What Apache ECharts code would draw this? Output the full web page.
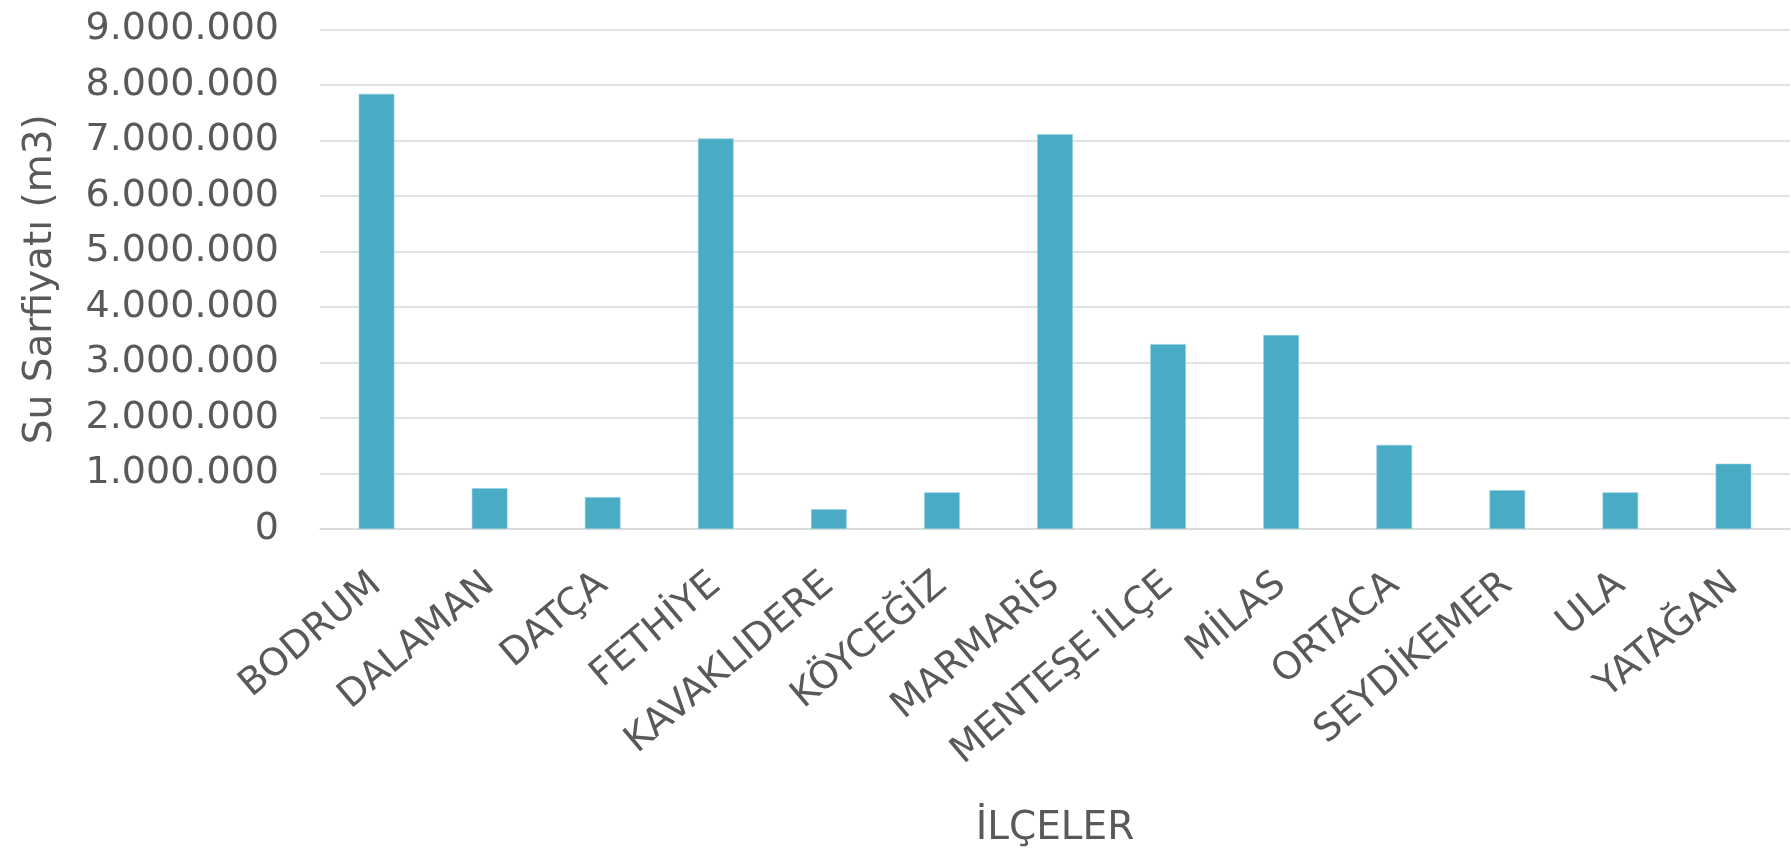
<!DOCTYPE html>
<html>
<head>
<meta charset="utf-8">
<title>Su Sarfiyatı</title>
<script src="https://cdn.jsdelivr.net/npm/echarts@6/dist/echarts.min.js"></script>
<style>
  html, body { margin: 0; padding: 0; background: #ffffff; }
  #chart { width: 1791px; height: 853px; }
</style>
</head>
<body>
<div id="chart"></div>
<script>
// İlçe bazında su sarfiyatı (m3)
const districts = [
  'BODRUM', 'DALAMAN', 'DATÇA', 'FETHİYE', 'KAVAKLIDERE', 'KÖYCEĞİZ',
  'MARMARİS', 'MENTEŞE İLÇE', 'MİLAS', 'ORTACA', 'SEYDİKEMER', 'ULA', 'YATAĞAN'
];
const consumption = [
  7840000, 735000, 575000, 7035000, 355000, 660000,
  7115000, 3330000, 3495000, 1515000, 700000, 660000, 1175000
];
const yTicks = { min: 0, max: 9000000, step: 1000000 };
const yAxisTitle = 'Su Sarfiyatı (m3)';
const xAxisTitle = 'İLÇELER';

const FONT = '"DejaVu Sans", "Noto Sans", sans-serif';
const TEXT = '#595959';
const GRID = '#d9d9d9';

// 1000000 -> "1.000.000"
function dotted(v) {
  return String(Math.round(v)).replace(/\B(?=(\d{3})+(?!\d))/g, '.');
}

const chart = echarts.init(document.getElementById('chart'), null, { renderer: 'canvas' });
chart.setOption({
  animation: false,
  backgroundColor: '#ffffff',
  grid: { left: 320, right: 1, top: 29.5, bottom: 322.5 },
  xAxis: {
    type: 'category',
    data: districts,
    axisTick: { show: false },
    axisLine: { show: true, lineStyle: { color: GRID, width: 1.5 } },
    axisLabel: {
      interval: 0,
      rotate: 40,
      margin: 51,
      color: TEXT,
      fontFamily: FONT,
      fontSize: 38
    },
    name: xAxisTitle,
    nameLocation: 'middle',
    nameGap: 280,
    nameTextStyle: { color: TEXT, fontFamily: FONT, fontSize: 39 }
  },
  yAxis: {
    type: 'value',
    min: yTicks.min,
    max: yTicks.max,
    interval: yTicks.step,
    axisLine: { show: false },
    axisTick: { show: false },
    splitLine: { lineStyle: { color: GRID, width: 1.5 } },
    axisLabel: {
      margin: 41,
      color: TEXT,
      fontFamily: FONT,
      fontSize: 38,
      formatter: dotted
    },
    name: yAxisTitle,
    nameLocation: 'middle',
    nameGap: 260,
    nameTextStyle: { color: TEXT, fontFamily: FONT, fontSize: 39 }
  },
  series: [{
    type: 'bar',
    data: consumption,
    barWidth: '31.5%',
    itemStyle: { color: '#4aabc5', borderColor: '#8fcde0', borderWidth: 0.6 }
  }]
});
</script>
</body>
</html>
